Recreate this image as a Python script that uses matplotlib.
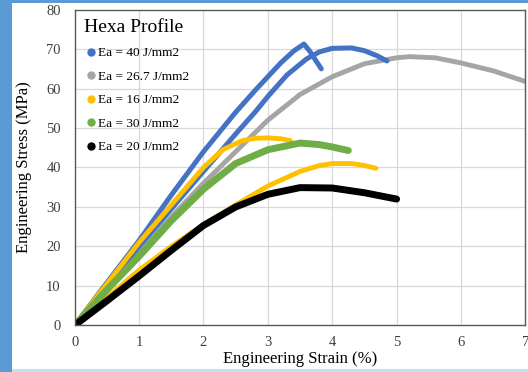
import matplotlib.pyplot as plt
from matplotlib.lines import Line2D
from matplotlib.patches import Rectangle

plt.rcParams['font.family'] = ['Liberation Serif', 'DejaVu Serif']

# Ea = 40 J/mm2 (two specimens)
blue_a_x = [0, 0.5, 1, 1.5, 2, 2.5, 2.8, 3.0, 3.2, 3.4, 3.56, 3.65, 3.75, 3.83]
blue_a_y = [0, 10.8, 21.5, 33, 44, 54, 59.5, 63, 66.5, 69.5, 71.3, 69.5, 67, 65]
blue_b_x = [0, 0.5, 1, 1.5, 2, 2.5, 2.8, 3.0, 3.3, 3.6, 3.8, 4.0, 4.3, 4.5, 4.7, 4.85]
blue_b_y = [0, 10, 20, 29.5, 39, 48.5, 54, 58, 63.5, 67.5, 69.3, 70.2, 70.3, 69.6, 68.3, 67]
# Ea = 26.7 J/mm2
gray_x = [0, 0.5, 1, 1.5, 2, 2.5, 3, 3.5, 4, 4.5, 5, 5.2, 5.6, 6, 6.5, 7]
gray_y = [0, 9.3, 18.5, 27.5, 36, 44, 52, 58.5, 63, 66.3, 67.8, 68.1, 67.8, 66.5, 64.5, 61.8]
# Ea = 16 J/mm2 (two specimens)
yel_a_x = [0, 0.5, 1, 1.5, 2, 2.3, 2.6, 2.8, 3.0, 3.2, 3.35]
yel_a_y = [0, 10.5, 21, 30.5, 40, 44.5, 46.8, 47.4, 47.5, 47.3, 46.8]
yel_b_x = [0, 0.5, 1, 1.5, 2, 2.5, 3, 3.5, 3.8, 4.0, 4.3, 4.5, 4.68]
yel_b_y = [0, 7, 14, 20, 25.5, 30.5, 35.3, 39, 40.5, 41, 41, 40.5, 39.8]
# Ea = 30 J/mm2
green_x = [0, 0.5, 1, 1.5, 2, 2.5, 3, 3.5, 3.8, 4.0, 4.25]
green_y = [0, 9, 17.5, 26.5, 34.5, 41, 44.5, 46.2, 45.8, 45.2, 44.3]
# Ea = 20 J/mm2
black_x = [0, 0.5, 1, 1.5, 2, 2.5, 3, 3.5, 4, 4.5, 5.0]
black_y = [0, 6.2, 12.5, 19, 25.3, 30, 33.2, 34.9, 34.8, 33.6, 32]

labels = ['Ea = 40 J/mm2', 'Ea = 26.7 J/mm2', 'Ea = 16 J/mm2', 'Ea = 30 J/mm2', 'Ea = 20 J/mm2']
colors = ['#4472C4', '#A5A5A5', '#FFC000', '#70AD47', '#000000']

fig = plt.figure(figsize=(5.28, 3.72), dpi=100)
fig.patch.set_facecolor('#5B9BD5')
fig.patches.append(Rectangle((12 / 528, 3 / 372), 1, 366 / 372, transform=fig.transFigure,
                             facecolor='white', edgecolor='none', zorder=-2))
fig.patches.append(Rectangle((12 / 528, 0), 1, 3 / 372, transform=fig.transFigure,
                             facecolor='#BDE3F5', edgecolor='none', zorder=-2))

ax = fig.add_axes([0.1415, 0.1255, 0.8535, 0.8485])
ax.set_zorder(1)
ax.set_facecolor('white')

kw = dict(solid_capstyle='round', solid_joinstyle='round')
ax.plot(gray_x, gray_y, color=colors[1], lw=3.5, **kw)
ax.plot(blue_a_x, blue_a_y, color=colors[0], lw=3.6, **kw)
ax.plot(blue_b_x, blue_b_y, color=colors[0], lw=3.6, **kw)
ax.plot(yel_a_x, yel_a_y, color=colors[2], lw=3.5, **kw)
ax.plot(yel_b_x, yel_b_y, color=colors[2], lw=3.5, **kw)
ax.plot(green_x, green_y, color=colors[3], lw=5, **kw)
ax.plot(black_x, black_y, color=colors[4], lw=5, **kw)

ax.set_xlim(0, 7)
ax.set_ylim(0, 80)
ax.set_xticks(range(0, 8))
ax.set_yticks(range(0, 81, 10))
ax.grid(True, color='#D9D9D9', lw=0.9)
ax.set_axisbelow(True)
ax.tick_params(length=0, labelsize=10.5, colors='#404040')
ax.tick_params(axis='x', pad=8)
ax.tick_params(axis='y', pad=10)
for s in ax.spines.values():
    s.set_color('#595959')
    s.set_linewidth(1.0)

ax.set_xlabel('Engineering Strain (%)', fontsize=12, labelpad=1)
ax.set_ylabel('Engineering Stress (MPa)', fontsize=12, labelpad=10)

handles = [Line2D([], [], ls='none', marker='o', ms=5, color=c) for c in colors]
leg = ax.legend(handles, labels, title='Hexa Profile', loc='upper left',
                bbox_to_anchor=(0.0, 1.0), frameon=False, fontsize=9.5,
                title_fontsize=14, labelspacing=0.85, handletextpad=0.05,
                handlelength=1.0, borderaxespad=0.3)
leg._legend_box.align = 'left'

fig.savefig('out.png', dpi=100, facecolor=fig.get_facecolor())
